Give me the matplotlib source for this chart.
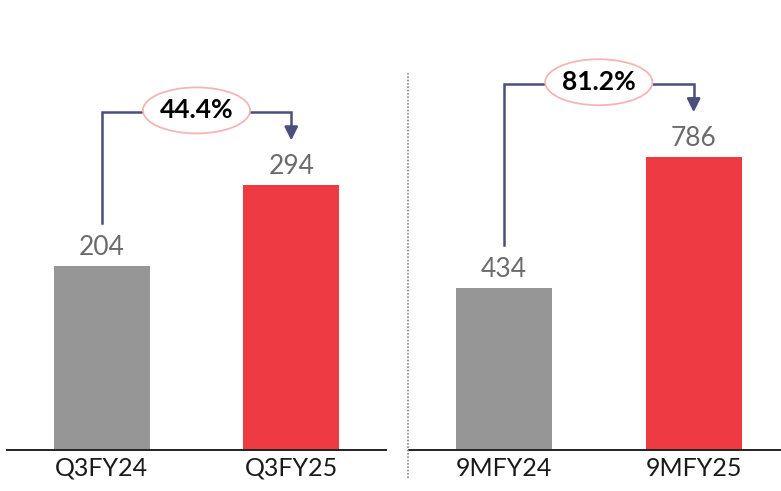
import matplotlib.pyplot as plt
from matplotlib.patches import Ellipse
from matplotlib.lines import Line2D

plt.rcParams['font.family'] = ['Lato', 'DejaVu Sans']

# quarter panel
q_labels = ['Q3FY24', 'Q3FY25']
q_values = [204, 294]
q_growth = '44.4%'

# nine-month panel
m_labels = ['9MFY24', '9MFY25']
m_values = [434, 786]
m_growth = '81.2%'

bar_colors = ['#969696', '#ee3a43']
arrow_color = '#4b4f7c'

W, H = 781, 491
fig = plt.figure(figsize=(W / 100, H / 100), dpi=100)

base = (H - 450) / H
ax1 = fig.add_axes([7 / W, base, 379 / W, 1 - base])
ax2 = fig.add_axes([409 / W, base, 372 / W, 1 - base])


def px(ax, n):
    # convert a vertical distance in pixels to data units
    lo, hi = ax.get_ylim()
    return n * (hi - lo) / (ax.get_position().height * H)


def panel(ax, labels, values, growth, ymax, xmax):
    ax.set_ylim(0, ymax)
    ax.set_xlim(-0.5, xmax)
    x = range(len(values))
    ax.bar(x, values, width=0.505, color=bar_colors)
    for i, v in zip(x, values):
        ax.text(i, v + px(ax, 6), str(v), ha='center', va='bottom',
                fontsize=19, color='#6b6b6b')
    ax.set_xticks(list(x))
    ax.set_xticklabels(labels, fontsize=18, color='#1a1a1a')
    ax.tick_params(axis='x', length=0, pad=5)
    ax.set_yticks([])
    for s in ['top', 'left', 'right']:
        ax.spines[s].set_visible(False)
    ax.spines['bottom'].set_color('#222222')
    ax.spines['bottom'].set_linewidth(1.4)

    # growth connector
    y0 = values[0] + px(ax, 43)
    ytop = max(values) + px(ax, 73)
    ytip = values[1] + px(ax, 45)
    ax.plot([0, 0, 1, 1], [y0, ytop, ytop, ytip + px(ax, 10)],
            color=arrow_color, lw=1.8, solid_joinstyle='miter', zorder=2)
    ax.annotate('', xy=(1, ytip), xytext=(1, ytip + px(ax, 12)),
                arrowprops=dict(arrowstyle='-|>,head_length=0.8,head_width=0.4',
                                color=arrow_color, lw=1.8, shrinkA=0, shrinkB=0))
    ax.add_patch(Ellipse((0.5, ytop + px(ax, 2)), 0.565, px(ax, 46),
                         facecolor='white', edgecolor='#f4b5b5', lw=1.3,
                         zorder=3))
    ax.text(0.5, ytop + px(ax, 2), growth, ha='center', va='center',
            fontsize=19, fontweight='bold', color='black', zorder=4)


panel(ax1, q_labels, q_values, q_growth, 450 / 0.9, 1.5)
panel(ax2, m_labels, m_values, m_growth, 450 / 0.3725, 1.46)

fig.add_artist(Line2D([408 / W, 408 / W], [1 - 478 / H, 1 - 72 / H],
                      color='#8a8a8a', lw=1.2, ls=(0, (1, 1))))

fig.savefig('out.png', dpi=100)
